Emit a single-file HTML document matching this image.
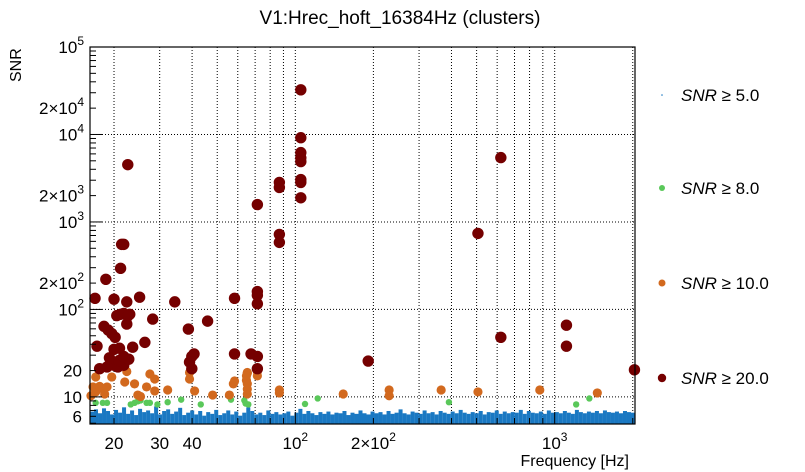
<!DOCTYPE html>
<html><head><meta charset="utf-8"><style>
body{margin:0;background:#fff;}
svg{display:block;font-family:"Liberation Sans",sans-serif;}
</style></head><body>
<svg id="chart" width="805" height="472" viewBox="0 0 805 472">
<text x="400" y="24" text-anchor="middle" font-size="19">V1:Hrec_hoft_16384Hz (clusters)</text>
<g id="grid"></g>
<g id="marks"></g>
<rect x="90" y="47" width="545" height="377" fill="none" stroke="#000" stroke-width="1.2"/>
<g id="axes"></g>
<text x="629" y="466" text-anchor="end" font-size="16">Frequency [Hz]</text>
<text transform="translate(21,82) rotate(-90)" font-size="16">SNR</text>
<g id="legend"></g>
</svg>
<script>
const redF=[22.6,105,105,105,105,105,105,105,105,86.8,86.8,71.4,86.8,86.8,620,506,21.4,21.8,21.2,18.6,16.9,20.0,25.1,22.4,34.3,71.4,71.4,71.4,58.3,38.7,45.9,28.2,21.2,20.5,23.0,21.8,22.6,18.3,19.0,19.6,20.2,22.4,17.2,20.0,21.0,23.6,26.3,20.0,20.7,21.8,18.8,17.6,19.2,20.9,22.8,21.8,39.9,40.7,39.1,39.9,58.3,71.4,71.4,67.5,191,620,1110,1110,2030];
const redS=[4520,32400,9180,6200,5400,4900,3050,2830,1890,2830,2480,1580,720,584,5440,740,554,554,295,221,134,131,138,122,122,145,160,116,134,59.6,73.5,77.5,88,85,88,90,84,64,58,53,48,68,38,35,36,37,42,23,22,23,22,21,28,26,27,29,29,31,25,21,31,29,21,31,25.7,48,66,38,20.4];
const orgF=[17.0,17.0,16.6,18.1,17.6,16.3,18.8,18.4,19.6,22.0,22.4,24.0,24.7,25.3,27.5,26.7,28.7,28.7,32.2,39.1,39.1,40.9,48.0,55.7,57.7,58.3,64.8,65.3,65.3,64.8,65.3,65.3,65.3,71.4,71.4,86.8,86.8,153,230,230,365,506,876,1460];
const orgS=[16.9,11.4,13.0,12.3,13.2,10.3,13.0,10.8,16.9,14.8,19.5,14.1,10.5,10.1,18.3,13.0,16.0,11.7,12.0,19,16,11.7,10.5,10.5,14.1,15.2,15.5,19,18.7,17.4,14.1,12.3,10.8,19.5,17.4,12.0,11.1,10.8,12.0,10.3,12.0,11.4,12.0,11.1];
const grnF=[17.0,18.1,18.8,23.2,24.0,24.7,25.3,26.7,27.5,29.4,32.2,36.3,43.2,56.5,63.6,64.3,65.9,109,122,391,1210,1360];
const grnS=[8.55,8.55,8.55,8.2,8.55,8.9,9.1,8.55,8.55,8.2,8.7,9.3,8.2,9.3,9.1,8.4,8.2,8.3,9.6,8.7,8.2,9.6];
const blueS=[6.8,7.2,6.5,7.4,6.9,6.3,7.1,6.6,7.6,6.4,7.0,6.2,7.3,6.7,7.0,6.5,7.8,6.3,6.9,7.2,6.4,6.8,7.5,6.2,6.6,7.0,6.3,6.9,6.1,6.7,6.4,7.1,6.2,6.5,7.0,6.3,6.8,6.1,6.6,7.6,6.9,6.3,6.6,6.2,7.0,6.4,6.7,6.3,6.5,6.8,6.1,6.6,7.3,6.4,6.9,6.5,6.2,6.7,6.4,6.8,6.3,6.6,6.5,6.9,6.2,6.6,6.4,7.0,6.5,6.3,6.8,6.5,6.7,6.3,6.9,6.4,6.6,7.2,6.5,6.3,6.8,6.6,6.4,7.0,6.5,6.7,6.3,6.9,6.6,6.4,6.8,6.5,7.1,6.6,6.4,6.7,6.5,6.9,6.3,6.7,6.6,7.0,6.4,6.8,6.5,6.7,6.6,7.1,6.4,6.9,6.6,6.5,6.8,6.4,7.0,6.6,6.7,6.5,6.9,6.6,6.4,7.1,6.7,6.5,6.8,6.6,6.9,6.5,7.0,6.7,6.6,6.8,6.5,6.9,6.7,6.6];
const xTicks=[20,30,40,100,200,1000];
const xTickLabels=["20","30","40","10|2","2×10|2","10|3"];
const yTicks=[100000,20000,10000,2000,1000,200,100,20,10,6];
const yTickLabels=["10|5","2×10|4","10|4","2×10|3","10|3","2×10|2","10|2","20","10","6"];
const legendLabels=["5.0","8.0","10.0","20.0"];

const NS="http://www.w3.org/2000/svg";
const X0=90,X1=635,Y0=47,Y1=424;
const fMin=16.16,fMax=2040,sMin=4.9,sMax=100000;
const sx=f=>X0+(X1-X0)*Math.log10(f/fMin)/Math.log10(fMax/fMin);
const sy=s=>Y0+(Y1-Y0)*Math.log10(sMax/s)/Math.log10(sMax/sMin);
function el(t,a,p){const e=document.createElementNS(NS,t);for(const k in a)e.setAttribute(k,a[k]);p.appendChild(e);return e;}
const grid=document.getElementById('grid'),marks=document.getElementById('marks'),axes=document.getElementById('axes'),legend=document.getElementById('legend');
for(let d=10;d<=1000;d*=10)for(let m=1;m<10;m++){const f=d*m;if(f<fMin||f>fMax)continue;const x=sx(f);
 const g=el('line',{x1:x,x2:x,y1:Y0,y2:Y1,stroke:'#000','stroke-dasharray':'1,2','stroke-width':1},grid);
 
 const big=(m===1);
 const t=el('line',{x1:x,x2:x,y1:Y1,y2:Y1-(big?12:6),stroke:'#000'},axes);
 }
for(let d=10;d<=100000;d*=10){const y=sy(d);
 const g=el('line',{x1:X0,x2:X1,y1:y,y2:y,stroke:'#000','stroke-dasharray':'1,2'},grid);
 }
for(let d=1;d<=10000;d*=10)for(let m=1;m<10;m++){const s=d*m;if(s<sMin||s>sMax)continue;const y=sy(s);
 const t=el('line',{x1:X0,x2:X0+(m===1?12:6),y1:y,y2:y,stroke:'#000'},axes);
 }
function label(str,x,y,anchor,parent,name){const t=el('text',{x:x,y:y,'text-anchor':anchor,'font-size':17},parent);
 
 const [b,sup]=str.split('|');t.appendChild(document.createTextNode(b));
 if(sup){const s=el('tspan',{dy:-8,'font-size':12},t);s.textContent=sup;}}
xTicks.forEach((f,i)=>label(xTickLabels[i],sx(f),449,'middle',axes,'x-tick-label'));
yTicks.forEach((s,i)=>{const str=yTickLabels[i];label(str,str.includes('|')?84:82,sy(s)+6,'end',axes,'y-tick-label');});
const nb=blueS.length;
blueS.forEach((s,i)=>{const f=fMin*Math.pow(fMax/fMin,(i+0.5)/nb);const x=sx(f),w=(X1-X0)/nb;
 const r=el('rect',{x:x-w/2,y:sy(s),width:w,height:Y1-sy(s),fill:'#1a78c2'},marks);
 });
function dots(F,S,r,c,name){F.forEach((f,i)=>{const d=el('circle',{cx:sx(f),cy:sy(S[i]),r:r,fill:c},marks);
 });}
dots(grnF,grnS,3.2,'#5ac85a','snr8-point');
dots(orgF,orgS,4.6,'#d2691e','snr10-point');
dots(redF,redS,5.7,'#750000','snr20-point');
const cols=['#1a78c2','#5ac85a','#d2691e','#750000'],rad=[0.8,3,3.5,4.2],ly=[95,188,283,378];
legendLabels.forEach((v,i)=>{const c=el('circle',{cx:662,cy:ly[i],r:rad[i],fill:cols[i]},legend);
 
 const t=el('text',{x:681,y:ly[i]+6,'font-size':17},legend);
 
 const it=el('tspan',{'font-style':'italic'},t);it.textContent='SNR';
 t.appendChild(document.createTextNode(' ≥ '+v));});
</script>
</body></html>
